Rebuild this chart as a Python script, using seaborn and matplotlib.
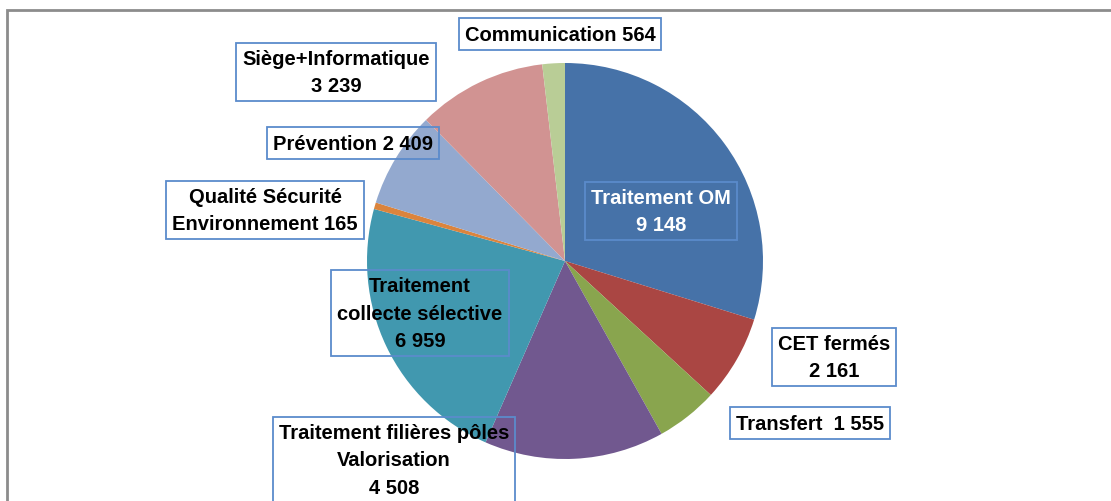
import matplotlib
matplotlib.use("Agg")
import matplotlib.pyplot as plt
import matplotlib.patches as mpatches
import seaborn as sns

# -----------------------------
# Data
# -----------------------------
categories = [
    "Traitement OM",
    "CET fermés",
    "Transfert",
    "Traitement filières pôles Valorisation",
    "Traitement collecte sélective",
    "Qualité Sécurité Environnement",
    "Prévention",
    "Siège+Informatique",
    "Communication",
]
values = [9148, 2161, 1555, 4508, 6959, 165, 2409, 3239, 564]

label_texts = [
    "Traitement OM\n9 148",
    "CET fermés\n2 161",
    "Transfert  1 555",
    "Traitement filières pôles\nValorisation\n4 508",
    "Traitement\ncollecte sélective\n6 959",
    "Qualité Sécurité\nEnvironnement 165",
    "Prévention 2 409",
    "Siège+Informatique\n3 239",
    "Communication 564",
]

colors = ["#4672A8", "#AA4643", "#89A54E", "#71588F", "#4198AF",
          "#DB843D", "#93A9CF", "#D19392", "#B9CD96"]

# label centres in pixels (layout only)
label_px = [(661, 212), (834, 358), (810, 424), (394, 461), (420, 314),
            (265, 211), (353, 144), (336, 73), (560, 35)]
label_color = ["white"] + ["black"] * 8

# -----------------------------
# Figure
# -----------------------------
sns.set_style("white")
plt.rcParams["font.family"] = ["Liberation Sans", "DejaVu Sans"]

W, H = 1111, 502
cx, cy, r = 565, 262, 198
fig = plt.figure(figsize=(W / 100, H / 100), dpi=100)

# outer frame
fig.patches.append(mpatches.Rectangle(
    (7 / W, -0.05), 1.2, (H - 11) / H + 0.05, transform=fig.transFigure,
    fill=False, edgecolor="#8c8c8c", linewidth=2))

ax = fig.add_axes([(cx - r) / W, (H - cy - r) / H, 2 * r / W, 2 * r / H])
ax.pie(values, colors=colors, startangle=90, counterclock=False,
       radius=1, wedgeprops=dict(linewidth=0))
ax.set_xlim(-1, 1)
ax.set_ylim(-1, 1)
ax.set_axis_off()

for txt, (px, py), tc in zip(label_texts, label_px, label_color):
    ax.text((px - cx) / r, (cy - py) / r, txt, ha="center", va="center",
            fontsize=14.5, fontweight="bold", color=tc, linespacing=1.55,
            bbox=dict(boxstyle="square,pad=0.3", facecolor="none",
                      edgecolor="#5B8BCB", linewidth=1.3))

fig.savefig("out.png", dpi=100)
